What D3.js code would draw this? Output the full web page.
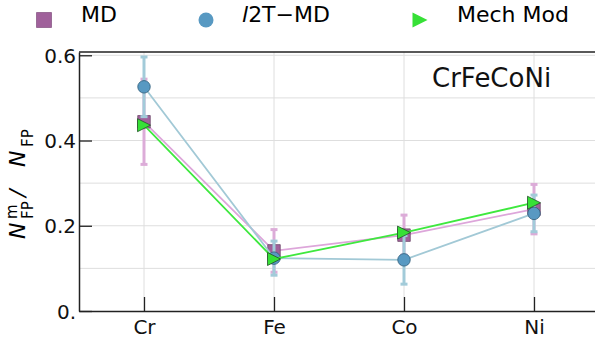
<!DOCTYPE html>
<html>
<head>
<script type="text/javascript" src="https://cdn.jsdelivr.net/npm/d3@7/dist/d3.min.js"></script>
<style>
body { margin: 0; background: white; }
text { font-family: "DejaVu Sans", sans-serif; }
</style>
</head>
<body>
<script>

var width = 595,
    height = 339;

var categories = ["Cr", "Fe", "Co", "Ni"];
var mdVals  = [0.444, 0.141, 0.178, 0.239];
var mdErr   = [0.100, 0.050, 0.047, 0.058];
var ttmVals = [0.526, 0.124, 0.120, 0.229];
var ttmErr  = [0.070, 0.040, 0.057, 0.043];
var mechVals = [0.436, 0.122, 0.184, 0.254];
var yTicks = [0, 0.2, 0.4, 0.6];
var yTickLabels = ["0.", "0.2", "0.4", "0.6"];
var yGrid = [0.1, 0.2, 0.3, 0.4, 0.5, 0.6];

var pLeft = 79, pRight = 599, pTop = 52, pBottom = 311;

var x = d3.scaleLinear().domain([-0.5, 3.5]).range([pLeft, pRight]);
var y = d3.scaleLinear().domain([0, 0.6077]).range([pBottom, pTop]);

var svg = d3.select("body")
            .append("svg")
            .attr("width", width)
            .attr("height", height)
            .style("background", "white");

// grid
svg.append("g").selectAll("line")
   .data(yGrid)
   .enter().append("line")
   .attr("x1", pLeft).attr("x2", pRight)
   .attr("y1", function (d) { return y(d); })
   .attr("y2", function (d) { return y(d); })
   .style("stroke", "#dedede").style("stroke-width", 1);

svg.append("g").selectAll("line")
   .data(categories)
   .enter().append("line")
   .attr("x1", function (d, i) { return x(i); })
   .attr("x2", function (d, i) { return x(i); })
   .attr("y1", pTop).attr("y2", pBottom)
   .style("stroke", "#dedede").style("stroke-width", 1);

// axes, ticks pointing inward
var xAxis = d3.axisBottom(x)
              .tickValues(d3.range(categories.length))
              .tickFormat(function (d) { return categories[d]; })
              .tickSizeInner(-14).tickSizeOuter(0);

var yAxis = d3.axisLeft(y)
              .tickValues(yTicks)
              .tickFormat(function (d, i) { return yTickLabels[i]; })
              .tickSizeInner(-13).tickSizeOuter(0).tickPadding(3);

var gx = svg.append("g").attr("transform", "translate(0," + pBottom + ")").call(xAxis);
var gy = svg.append("g").attr("transform", "translate(" + pLeft + ",0)").call(yAxis);

[gx, gy].forEach(function (g) {
  g.select(".domain").style("stroke", "#222").style("stroke-width", 1.5);
  g.selectAll(".tick line").style("stroke", "#222").style("stroke-width", 1.3);
  g.selectAll(".tick text").style("font-size", "20px").style("fill", "#111")
   .style("font-family", "'DejaVu Sans', sans-serif");
});
gx.selectAll(".tick text").attr("dy", null).attr("y", 23);
gy.selectAll(".tick text").attr("dy", "0.36em");

svg.append("line")
   .attr("x1", pLeft).attr("x2", pRight).attr("y1", pTop).attr("y2", pTop)
   .style("stroke", "#222").style("stroke-width", 1.5);

var line = d3.line()
             .x(function (d, i) { return x(i); })
             .y(function (d) { return y(d); });

function errorBars(vals, errs, col) {
  var g = svg.append("g");
  vals.forEach(function (v, i) {
    g.append("line")
     .attr("x1", x(i)).attr("x2", x(i))
     .attr("y1", y(v - errs[i])).attr("y2", y(v + errs[i]))
     .style("stroke", col).style("stroke-width", 3);
    [v - errs[i], v + errs[i]].forEach(function (e) {
      g.append("line")
       .attr("x1", x(i) - 3.5).attr("x2", x(i) + 3.5)
       .attr("y1", y(e)).attr("y2", y(e))
       .style("stroke", col).style("stroke-width", 3);
    });
  });
}

var sq = function (s) { return "M" + (-s/2) + "," + (-s/2) + "h" + s + "v" + s + "h" + (-s) + "Z"; };
var tri = function (s) { var h = s/2; return "M" + h + ",0L" + (-h) + "," + h + "L" + (-h) + "," + (-h) + "Z"; };
var circ = function (s) { var r = s/2; return "M" + r + ",0A" + r + "," + r + " 0 1,1 " + (-r) + ",0A" + r + "," + r + " 0 1,1 " + r + ",0Z"; };

function series(vals, lineCol, shape, fill, edge) {
  svg.append("path")
     .datum(vals)
     .attr("d", line)
     .style("fill", "none")
     .style("stroke", lineCol)
     .style("stroke-width", 1.8);
  svg.append("g").selectAll("path")
     .data(vals)
     .enter().append("path")
     .attr("transform", function (d, i) { return "translate(" + x(i) + "," + y(d) + ")"; })
     .attr("d", shape)
     .style("fill", fill)
     .style("stroke", edge)
     .style("stroke-width", 0.8);
}

errorBars(mdVals, mdErr, "#dcacd8");
series(mdVals, "#dda6da", sq(12.5), "#a0619b", "#6e4a6c");
errorBars(ttmVals, ttmErr, "#a2cbd9");
series(ttmVals, "#a2c9d6", circ(12.5), "#5899c2", "#2f5d7a");
series(mechVals, "#3ee83e", tri(13), "#36e036", "#24502a");

// legend
var leg = svg.append("g");
leg.append("path").attr("transform", "translate(44,20)").attr("d", sq(15))
   .style("fill", "#a0619b").style("stroke", "#8a5a88").style("stroke-width", 0.8);
leg.append("text").attr("x", 81).attr("y", 22).style("font-size", "22px").text("MD");

leg.append("path").attr("transform", "translate(206,20)").attr("d", circ(15))
   .style("fill", "#5899c2");
var t2 = leg.append("text").attr("x", 242).attr("y", 22).style("font-size", "22px");
t2.append("tspan").style("font-style", "italic").text("l");
t2.append("tspan").text("2T\u2212MD");

leg.append("path").attr("transform", "translate(420,20)").attr("d", tri(15))
   .style("fill", "#36e036");
leg.append("text").attr("x", 457).attr("y", 22).style("font-size", "22px").text("Mech Mod");

svg.append("text").attr("x", 432).attr("y", 87).style("font-size", "26px").style("fill", "#111")
   .text("CrFeCoNi");

// y label
var yl = svg.append("g").attr("transform", "translate(25,0) rotate(-90)");
yl.append("text").attr("x", -239).attr("y", 0).style("font-size", "22px").style("font-style", "italic").text("N");
yl.append("text").attr("x", -219).attr("y", -8).style("font-size", "15px").text("m");
yl.append("text").attr("x", -219).attr("y", 8).style("font-size", "15px").text("FP");
yl.append("text").attr("x", -197).attr("y", 0).style("font-size", "22px").style("font-style", "italic").text("/");
yl.append("text").attr("x", -167).attr("y", 0).style("font-size", "22px").style("font-style", "italic").text("N");
yl.append("text").attr("x", -147).attr("y", 8).style("font-size", "15px").text("FP");

</script>
</body>
</html>
